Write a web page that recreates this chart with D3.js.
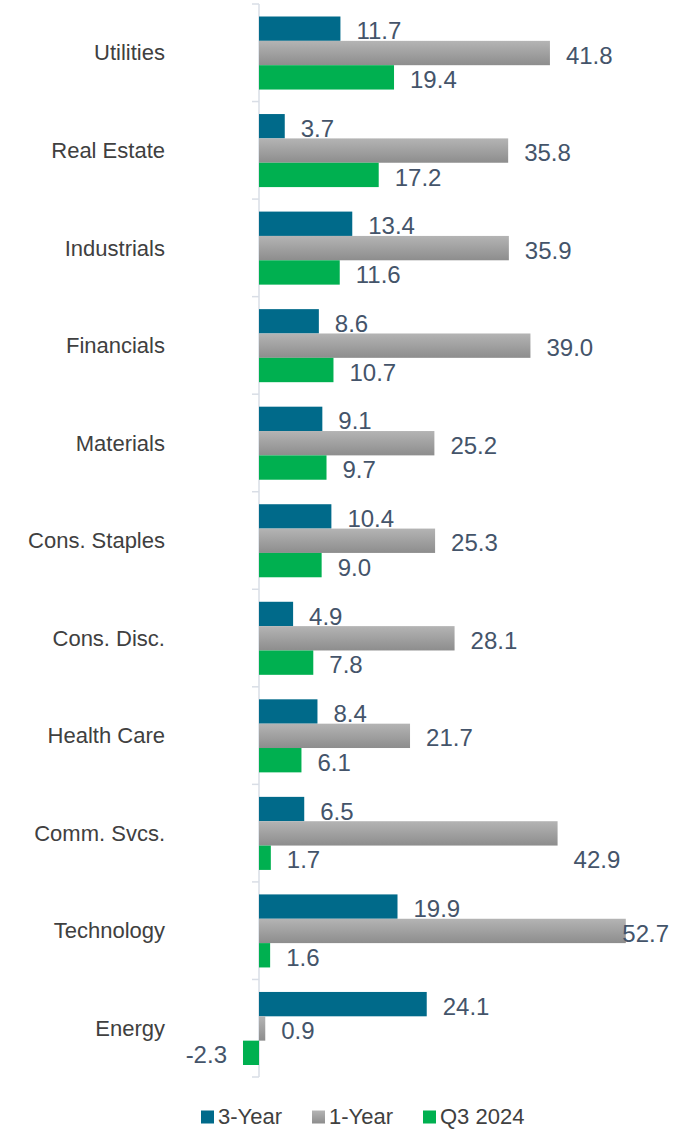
<!DOCTYPE html>
<html>
<head>
<meta charset="utf-8">
<script src="https://cdn.jsdelivr.net/npm/d3@7"></script>
<style>
  html, body { margin: 0; padding: 0; background: #fff; }
  svg { display: block; }
</style>
</head>
<body>
<svg id="chart" width="684" height="1129"></svg>
<script>
const categories = ["Utilities", "Real Estate", "Industrials", "Financials", "Materials",
  "Cons. Staples", "Cons. Disc.", "Health Care", "Comm. Svcs.", "Technology", "Energy"];
const seriesNames = ["3-Year", "1-Year", "Q3 2024"];
const threeYear = [11.7, 3.7, 13.4, 8.6, 9.1, 10.4, 4.9, 8.4, 6.5, 19.9, 24.1];
const oneYear   = [41.8, 35.8, 35.9, 39.0, 25.2, 25.3, 28.1, 21.7, 42.9, 52.7, 0.9];
const q3_2024   = [19.4, 17.2, 11.6, 10.7, 9.7, 9.0, 7.8, 6.1, 1.7, 1.6, -2.3];

const seriesValues = [threeYear, oneYear, q3_2024];
const colors = ["#006a8a", "url(#grayGrad)", "#00b050"];
const legendColors = ["#006a8a", "url(#grayGradLegend)", "#00b050"];

const svg = d3.select("#chart");
const defs = svg.append("defs");
function grad(id) {
  const g = defs.append("linearGradient").attr("id", id)
    .attr("x1", 0).attr("y1", 0).attr("x2", 0).attr("y2", 1);
  g.append("stop").attr("offset", "0%").attr("stop-color", "#b4b4b4");
  g.append("stop").attr("offset", "100%").attr("stop-color", "#8d8d8d");
}
grad("grayGrad"); grad("grayGradLegend");

const x0px = 259, pxPerUnit = 6.96;
const x = d3.scaleLinear().domain([-5, 60]).range([x0px - 5 * pxPerUnit, x0px + 60 * pxPerUnit]);
const y = d3.scaleBand().domain(categories).range([4, 1077]).padding(0);
const yi = d3.scaleBand().domain(seriesNames).range([12.5, y.bandwidth() - 12]).padding(0);

const labelFont = "'Liberation Sans', Arial, sans-serif";

// axis
const axisG = svg.append("g");
axisG.append("line")
  .attr("x1", x(0)).attr("x2", x(0))
  .attr("y1", y.range()[0]).attr("y2", y.range()[1])
  .attr("stroke", "#d9dee6").attr("stroke-width", 1.5);
const boundaries = categories.map(c => y(c)).concat([y.range()[1]]);
axisG.selectAll("line.tick").data(boundaries).enter().append("line")
  .attr("class", "tick")
  .attr("x1", x(0) - 7).attr("x2", x(0))
  .attr("y1", d => d).attr("y2", d => d)
  .attr("stroke", "#d9dee6").attr("stroke-width", 1.5);

// category labels
svg.append("g").selectAll("text").data(categories).enter().append("text")
  .attr("x", 165)
  .attr("y", d => y(d) + y.bandwidth() / 2)
  .attr("dy", "0.35em")
  .attr("text-anchor", "end")
  .attr("font-family", labelFont)
  .attr("font-size", 22)
  .attr("fill", "#404040")
  .text(d => d);

// bars
const barData = [];
categories.forEach((c, i) => {
  seriesNames.forEach((s, k) => {
    barData.push({ cat: c, series: s, k: k, value: seriesValues[k][i] });
  });
});

svg.append("g").selectAll("rect").data(barData).enter().append("rect")
  .attr("x", d => x(Math.min(0, d.value)))
  .attr("y", d => y(d.cat) + yi(d.series))
  .attr("width", d => Math.abs(x(d.value) - x(0)))
  .attr("height", yi.bandwidth())
  .attr("fill", d => colors[d.k]);

// value labels
const labels = svg.append("g").selectAll("text").data(barData).enter().append("text")
  .attr("font-family", labelFont)
  .attr("font-size", 24)
  .attr("fill", "#44546a")
  .attr("dy", "0.36em")
  .attr("text-anchor", d => d.value < 0 ? "end" : "start")
  .attr("x", d => d.value < 0 ? x(d.value) - 16 : x(d.value) + 16)
  .attr("y", d => {
    let yy = y(d.cat) + yi(d.series) + yi.bandwidth() / 2 + 2;
    if (d.cat === "Comm. Svcs." && d.series === "1-Year") yy += yi.bandwidth();
    return yy;
  })
  .text(d => d.value.toFixed(1));

labels.each(function() {
  const bb = this.getBBox();
  if (bb.x + bb.width > 669) {
    d3.select(this).attr("x", 669 - bb.width);
  }
});

// legend
const legendX = [201, 312, 423];
const lg = svg.append("g");
seriesNames.forEach((s, k) => {
  lg.append("rect").attr("x", legendX[k]).attr("y", 1110.5).attr("width", 13).attr("height", 13)
    .attr("fill", legendColors[k]);
  lg.append("text").attr("x", legendX[k] + 17).attr("y", 1124)
    .attr("font-family", labelFont).attr("font-size", 22).attr("fill", "#404040")
    .text(s);
});
</script>
</body>
</html>
